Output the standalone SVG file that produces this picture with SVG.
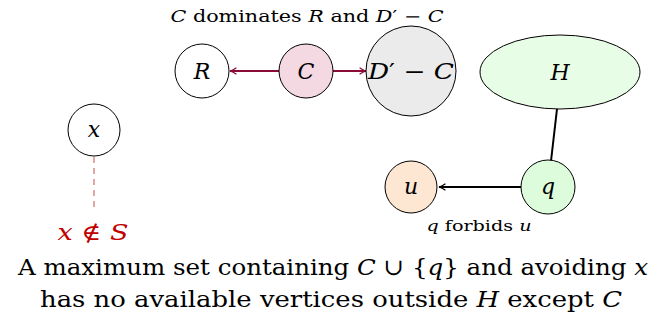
<svg xmlns="http://www.w3.org/2000/svg" width="663" height="322" viewBox="0 0 663 322">
<defs>
<marker id="ar" viewBox="0 0 10 10" refX="9" refY="5" markerWidth="8" markerHeight="8" markerUnits="userSpaceOnUse" orient="auto">
<path d="M1,1 Q5,4 9,5 Q5,6 1,9" fill="none" stroke="#8b0a36" stroke-width="1.6"/>
</marker>
<marker id="ab" viewBox="0 0 10 10" refX="9" refY="5" markerWidth="8" markerHeight="8" markerUnits="userSpaceOnUse" orient="auto">
<path d="M1,1 Q5,4 9,5 Q5,6 1,9" fill="none" stroke="#000" stroke-width="1.6"/>
</marker>
</defs>
<rect width="663" height="322" fill="#fff"/>
<g id="connectors">
<line x1="279" y1="71" x2="230" y2="71" stroke="#8b0a36" stroke-width="2" marker-end="url(#ar)"/>
<line x1="333" y1="71" x2="366" y2="71" stroke="#8b0a36" stroke-width="2" marker-end="url(#ar)"/>
<line x1="557" y1="109" x2="551" y2="161" stroke="#000" stroke-width="2"/>
<line x1="521" y1="187" x2="439" y2="187" stroke="#000" stroke-width="2" marker-end="url(#ab)"/>
<line x1="94" y1="157" x2="94" y2="207" stroke="#d46a6a" stroke-width="1.2" stroke-dasharray="6,5"/>
</g>
<g id="node-R"><circle stroke="#000" cx="202" cy="71" r="27" fill="#fff"/><text font-family="DejaVu Serif" font-style="italic" font-size="22" x="202" y="79" text-anchor="middle">R</text></g>
<g id="node-C"><circle stroke="#000" cx="306" cy="71" r="27" fill="#f4d8e2"/><text font-family="DejaVu Serif" font-style="italic" font-size="22" x="306" y="79" text-anchor="middle">C</text></g>
<g id="node-D"><circle stroke="#000" cx="411" cy="71" r="45" fill="#ebebeb"/><text font-family="DejaVu Serif" font-size="22" x="411" y="79" text-anchor="middle" textLength="86" lengthAdjust="spacingAndGlyphs"><tspan font-style="italic">D</tspan>′ − <tspan font-style="italic">C</tspan></text></g>
<g id="node-H"><ellipse stroke="#000" cx="560" cy="72" rx="80" ry="37" fill="#e8fde6"/><text font-family="DejaVu Serif" font-style="italic" font-size="22" x="560" y="80" text-anchor="middle">H</text></g>
<g id="node-x"><circle stroke="#000" cx="94" cy="130" r="26" fill="#fff"/><text font-family="DejaVu Serif" font-style="italic" font-size="22" x="94" y="137" text-anchor="middle">x</text></g>
<g id="node-u"><circle stroke="#000" cx="411" cy="187" r="26" fill="#fde6d2"/><text font-family="DejaVu Serif" font-style="italic" font-size="22" x="411" y="194" text-anchor="middle">u</text></g>
<g id="node-q"><circle stroke="#000" cx="548" cy="187" r="27" fill="#dcfcdc"/><text font-family="DejaVu Serif" font-style="italic" font-size="22" x="548" y="194" text-anchor="middle">q</text></g>
<text font-family="DejaVu Serif" x="307" y="22" font-size="16" text-anchor="middle" textLength="273" lengthAdjust="spacingAndGlyphs"><tspan font-style="italic">C</tspan> dominates <tspan font-style="italic">R</tspan> and <tspan font-style="italic">D</tspan>′ − <tspan font-style="italic">C</tspan></text>
<text font-family="DejaVu Serif" x="479" y="231" font-size="15" text-anchor="middle" textLength="105" lengthAdjust="spacingAndGlyphs"><tspan font-style="italic">q</tspan> forbids <tspan font-style="italic">u</tspan></text>
<text font-family="DejaVu Serif" font-size="22" x="93" y="240" text-anchor="middle" fill="#c00000" textLength="71" lengthAdjust="spacingAndGlyphs"><tspan font-style="italic">x</tspan> ∉ <tspan font-style="italic">S</tspan></text>
<text font-family="DejaVu Serif" font-size="23" x="333" y="275" text-anchor="middle" textLength="630" lengthAdjust="spacingAndGlyphs">A maximum set containing <tspan font-style="italic">C</tspan> ∪ {<tspan font-style="italic">q</tspan>} and avoiding <tspan font-style="italic">x</tspan></text>
<text font-family="DejaVu Serif" font-size="23" x="331" y="307" text-anchor="middle" textLength="582" lengthAdjust="spacingAndGlyphs">has no available vertices outside <tspan font-style="italic">H</tspan> except <tspan font-style="italic">C</tspan></text>
</svg>
